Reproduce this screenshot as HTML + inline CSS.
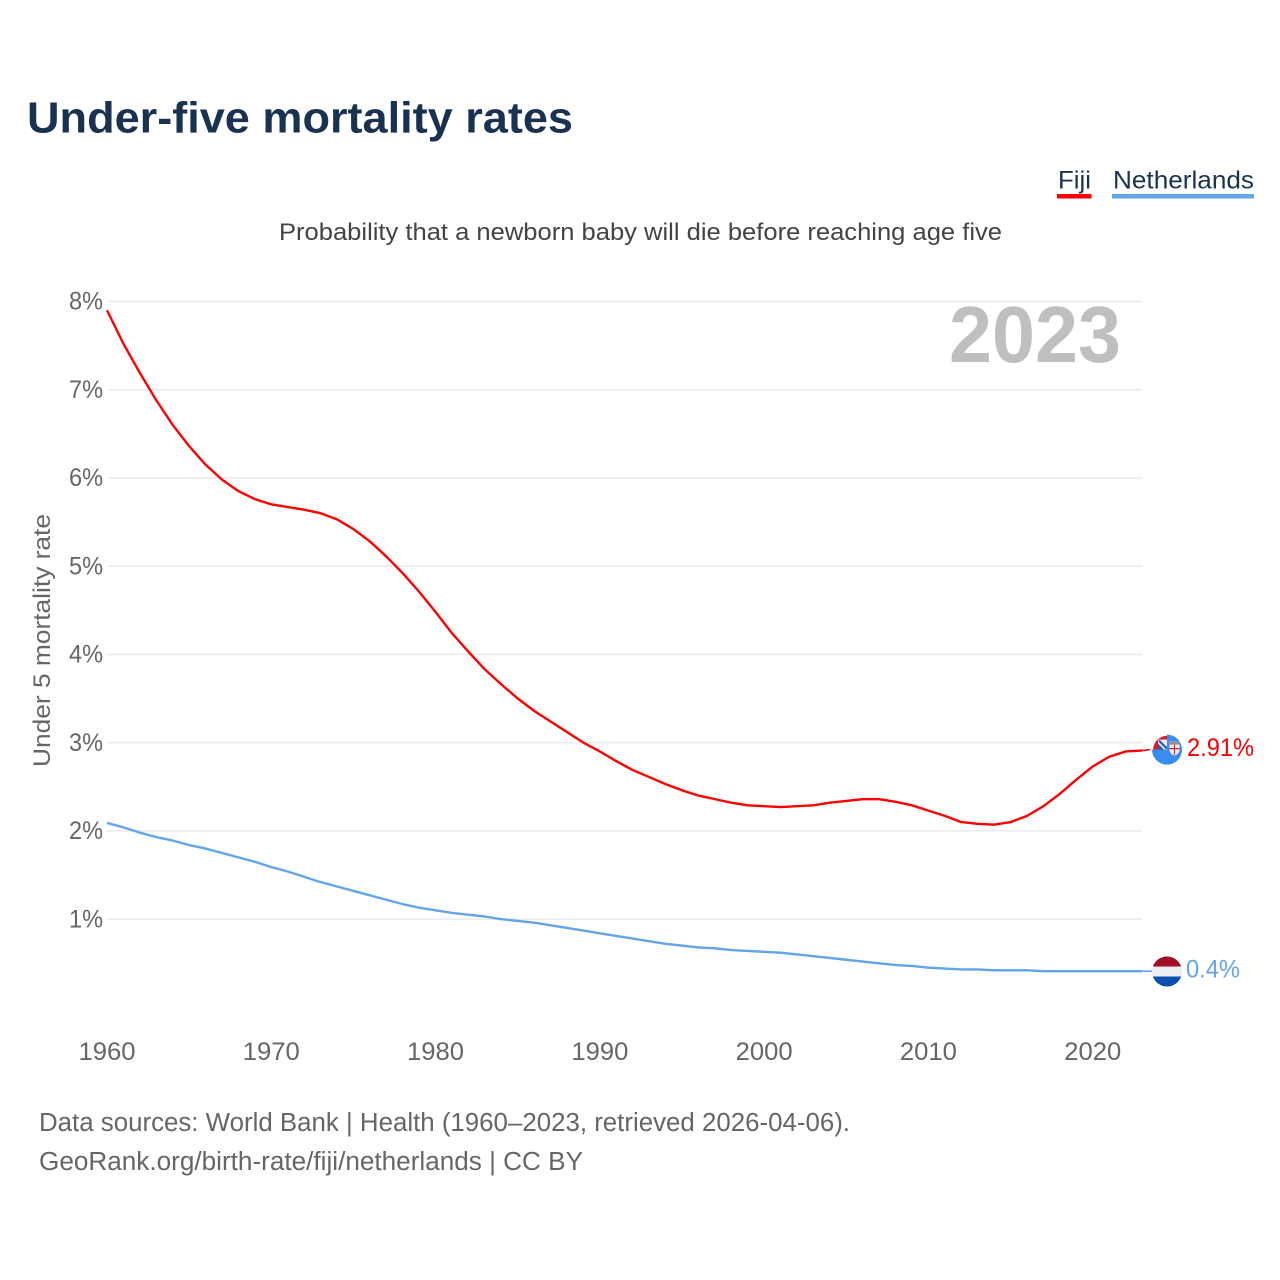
<!DOCTYPE html>
<html lang="en">
<head>
<meta charset="utf-8">
<title>Under-five mortality rates</title>
<style>
html,body{margin:0;padding:0;background:#fff;width:1280px;height:1280px;overflow:hidden}
svg{display:block;font-family:"Liberation Sans",sans-serif}
</style>
</head>
<body>
<svg id="chart" width="1280" height="1280" viewBox="0 0 1280 1280" xmlns="http://www.w3.org/2000/svg">
  <rect width="1280" height="1280" fill="#fff"/>
  <text x="27" y="132.500" font-size="44" font-weight="700" fill="#1a3252" textLength="546" lengthAdjust="spacingAndGlyphs">Under-five mortality rates</text>
  <text x="1058" y="188.500" font-size="25" fill="#1a3252" textLength="33" lengthAdjust="spacingAndGlyphs">Fiji</text>
  <rect x="1057" y="194" width="34.500" height="4.500" fill="#ff0000"/>
  <text x="1113" y="188.500" font-size="25" fill="#1a3252" textLength="141" lengthAdjust="spacingAndGlyphs">Netherlands</text>
  <rect x="1112" y="194" width="142" height="4.500" fill="#62a5ea"/>
  <text x="279" y="240" font-size="24.500" fill="#444" textLength="723" lengthAdjust="spacingAndGlyphs">Probability that a newborn baby will die before reaching age five</text>
  <g id="grid"></g>
  <g id="yticks"></g>
  <g id="xticks"></g>
  <text transform="translate(50,767) rotate(-90)" font-size="24.500" fill="#666" textLength="253" lengthAdjust="spacingAndGlyphs">Under 5 mortality rate</text>
  <text x="949" y="362" font-size="80" font-weight="700" fill="#bfbfbf" textLength="172" lengthAdjust="spacingAndGlyphs">2023</text>
  <g id="series"></g>
  <g id="markers"></g>
  <text x="39" y="1131" font-size="25.500" fill="#666" textLength="811" lengthAdjust="spacingAndGlyphs">Data sources: World Bank | Health (1960–2023, retrieved 2026-04-06).</text>
  <text x="39" y="1170" font-size="25.500" fill="#666" textLength="544" lengthAdjust="spacingAndGlyphs">GeoRank.org/birth-rate/fiji/netherlands | CC BY</text>
</svg>
<script>
const startYear = 1960;
const endYear = 2023;
const yTickValues = [1, 2, 3, 4, 5, 6, 7, 8];
const xTickYears = [1960, 1970, 1980, 1990, 2000, 2010, 2020];
const fijiValues = [7.90,7.52,7.19,6.88,6.60,6.36,6.15,5.98,5.85,5.76,5.70,5.67,5.64,5.60,5.53,5.42,5.28,5.11,4.92,4.71,4.48,4.24,4.03,3.83,3.66,3.50,3.36,3.24,3.12,3.00,2.90,2.79,2.69,2.61,2.53,2.46,2.40,2.36,2.32,2.29,2.28,2.27,2.28,2.29,2.32,2.34,2.36,2.36,2.33,2.29,2.23,2.17,2.10,2.08,2.07,2.10,2.17,2.28,2.42,2.58,2.73,2.84,2.90,2.91];
const netherlandsValues = [2.09,2.04,1.98,1.93,1.89,1.84,1.80,1.75,1.70,1.65,1.59,1.54,1.48,1.42,1.37,1.32,1.27,1.22,1.17,1.13,1.10,1.07,1.05,1.03,1.00,0.98,0.96,0.93,0.90,0.87,0.84,0.81,0.78,0.75,0.72,0.70,0.68,0.67,0.65,0.64,0.63,0.62,0.60,0.58,0.56,0.54,0.52,0.50,0.48,0.47,0.45,0.44,0.43,0.43,0.42,0.42,0.42,0.41,0.41,0.41,0.41,0.41,0.41,0.41];
const fijiLabel = "2.91%";
const netherlandsLabel = "0.4%";

const NS = "http://www.w3.org/2000/svg";
const xScale = function (year) { return 107 + (year - startYear) * (1142 - 107) / (endYear - startYear); };
const yScale = function (v) { return 1007.4 - v * 88.25; };

function make(tag, parent, attrs, text) {
  const el = document.createElementNS(NS, tag);
  for (const k in attrs) el.setAttribute(k, attrs[k]);
  if (text !== undefined) el.textContent = text;
  parent.appendChild(el);
  return el;
}

const gridG = document.getElementById("grid");
const yG = document.getElementById("yticks");
const xG = document.getElementById("xticks");
const seriesG = document.getElementById("series");
const markersG = document.getElementById("markers");

yTickValues.forEach(function (v) {
  const line = make("line", gridG, {x1: 107, x2: 1142, y1: yScale(v), y2: yScale(v), stroke: "#e9e9e9", "stroke-width": 1.4});
  
  
  const label = make("text", yG, {x: 103, y: yScale(v) + 8.300, "text-anchor": "end", "font-size": 25, fill: "#666", textLength: 34, lengthAdjust: "spacingAndGlyphs"}, v + "%");
  
  
});

xTickYears.forEach(function (yr) {
  const label = make("text", xG, {x: xScale(yr), y: 1060, "text-anchor": "middle", "font-size": 25, fill: "#666", textLength: 57, lengthAdjust: "spacingAndGlyphs"}, String(yr));
  
  
});

function linePath(values) {
  return values.map(function (v, i) {
    return (i ? "L" : "M") + xScale(startYear + i).toFixed(2) + " " + yScale(v).toFixed(2);
  }).join(" ");
}

const fijiLine = make("path", seriesG, {d: linePath(fijiValues), fill: "none", stroke: "#ff0000", "stroke-width": 2.4, "stroke-linejoin": "round"});


const nlLine = make("path", seriesG, {d: linePath(netherlandsValues), fill: "none", stroke: "#62a5ea", "stroke-width": 2.4, "stroke-linejoin": "round"});



const fijiEndY = yScale(fijiValues[fijiValues.length - 1]);
const nlEndY = yScale(netherlandsValues[netherlandsValues.length - 1]);
const cx = 1167;

/* Fiji marker */
const cyF = fijiEndY - 1;
const fijiLead = make("line", markersG, {x1: 1142, x2: 1150, y1: fijiEndY, y2: cyF, stroke: "#ff0000", "stroke-width": 1.6});


const fijiBack = make("circle", markersG, {cx: cx, cy: cyF, r: 13.800, fill: "#d9202c"});


const fijiCanton = make("rect", markersG, {x: cx - 9, y: cyF - 10, width: 9, height: 10, fill: "#f0ecf2"});


const fijiJackBlue = make("path", markersG, {d: "M" + (cx - 9) + " " + (cyF - 6) + " L" + (cx - 3) + " " + cyF + " H" + (cx - 9) + " Z", fill: "#2a5bb0"});


const fijiJack = make("path", markersG, {d: "M" + (cx - 8) + " " + (cyF - 9) + " l8 8", stroke: "#2a5bb0", "stroke-width": 2.2, fill: "none"});


const pieR = 15;
const fijiPie = make("path", markersG, {d: "M" + cx + " " + cyF + " V" + (cyF - pieR) + " A" + pieR + " " + pieR + " 0 1 1 " + (cx - pieR) + " " + cyF + " Z", fill: "#388ef0"});


const fijiShield = make("path", markersG, {d: "M" + (cx + 2.500) + " " + (cyF - 8) + " h10 v8 q0 4 -5 6 q-5 -2 -5 -6 Z", fill: "#f7f3f3", stroke: "#b9b9c4", "stroke-width": 0.6});


const fijiChief = make("rect", markersG, {x: cx + 2.500, y: cyF - 8, width: 10, height: 3, fill: "#8d8d96"});


const fijiCross = make("path", markersG, {d: "M" + (cx + 7.500) + " " + (cyF - 5) + " v10 M" + (cx + 2.500) + " " + (cyF - 1) + " h10", stroke: "#d9202c", "stroke-width": 1.2, fill: "none"});


const fijiText = make("text", markersG, {x: 1187, y: fijiEndY + 5.500, "font-size": 25, fill: "#ff0000", textLength: 67, lengthAdjust: "spacingAndGlyphs"}, fijiLabel);



/* Netherlands marker */
const r = 15;
const cyN = nlEndY + 0.300;
const nlLead = make("line", markersG, {x1: 1142, x2: 1153, y1: nlEndY, y2: nlEndY, stroke: "#62a5ea", "stroke-width": 1.6});


const dy = r / 3;
const dx = Math.sqrt(r * r - dy * dy);
const nlWhite = make("circle", markersG, {cx: cx, cy: cyN, r: r, fill: "#eceef2"});


const nlRed = make("path", markersG, {d: "M" + (cx - dx) + " " + (cyN - dy) + " A" + r + " " + r + " 0 0 1 " + (cx + dx) + " " + (cyN - dy) + " Z", fill: "#a20f26"});


const nlBlue = make("path", markersG, {d: "M" + (cx - dx) + " " + (cyN + dy) + " A" + r + " " + r + " 0 0 0 " + (cx + dx) + " " + (cyN + dy) + " Z", fill: "#0a50ad"});


const nlText = make("text", markersG, {x: 1186, y: nlEndY + 6.500, "font-size": 25, fill: "#62a5ea", textLength: 54, lengthAdjust: "spacingAndGlyphs"}, netherlandsLabel);


</script>
</body>
</html>
